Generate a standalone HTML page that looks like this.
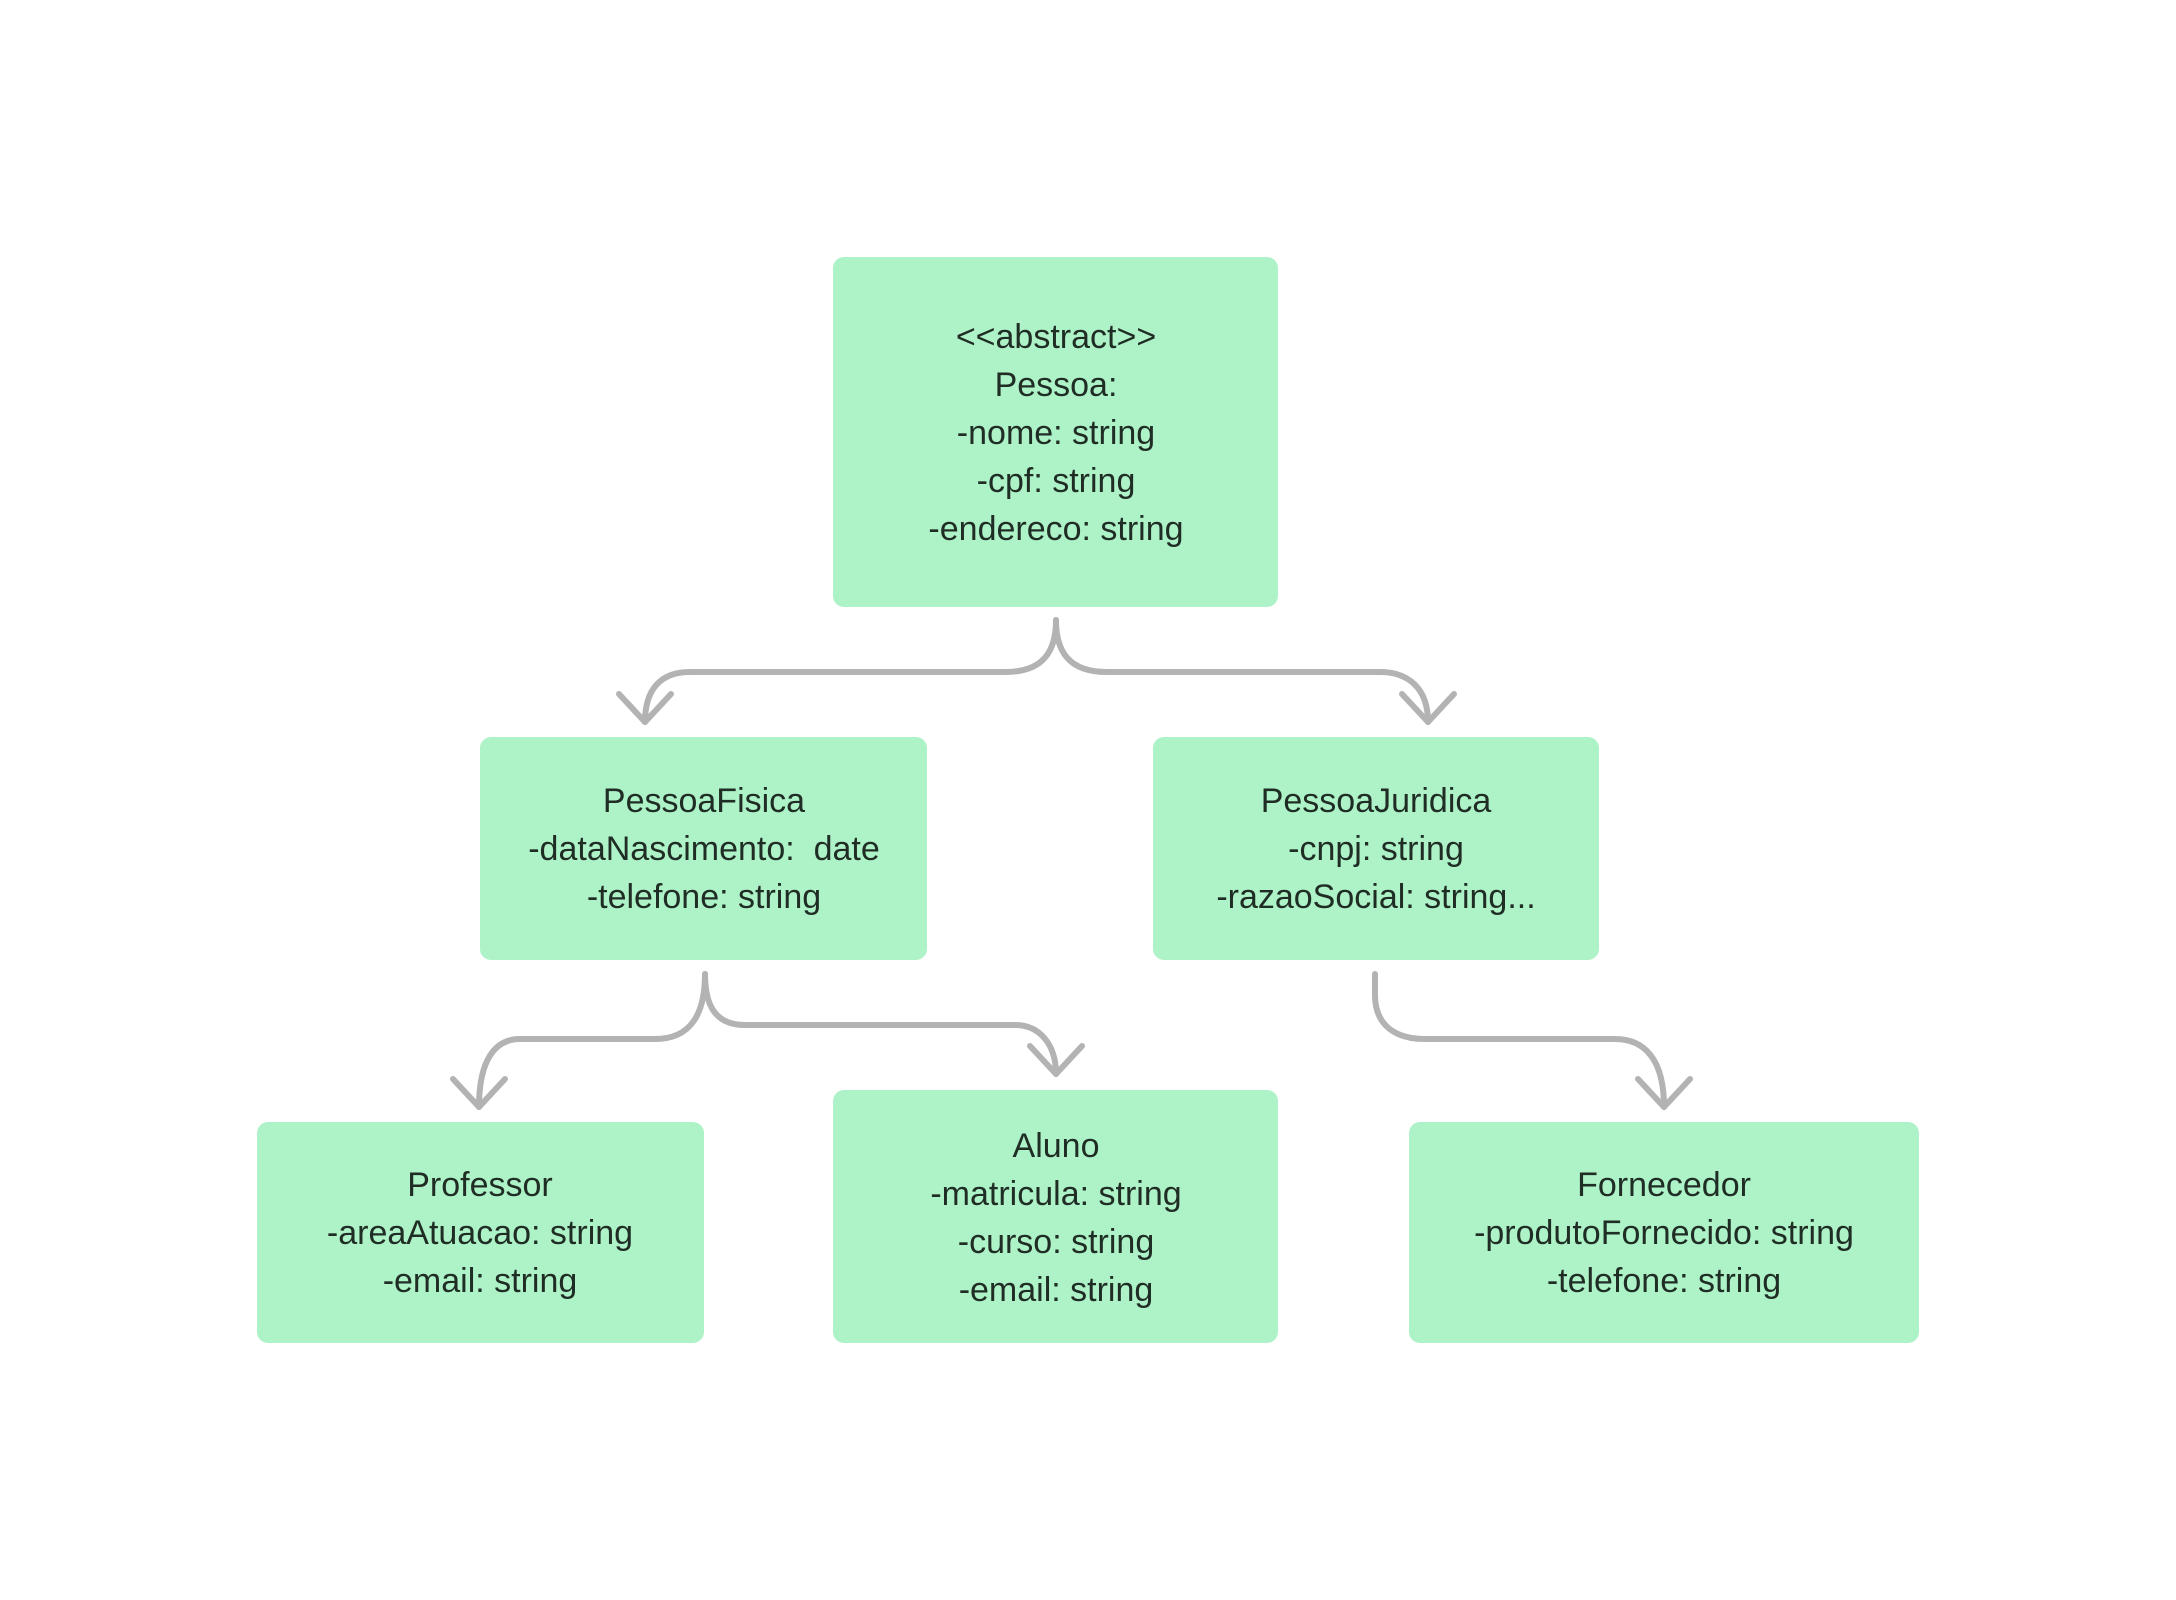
<!DOCTYPE html>
<html><head><meta charset="utf-8"><style>
html,body{margin:0;padding:0;background:#fff;}
svg{display:block;}
text{font-family:"Liberation Sans",sans-serif;font-size:34px;fill:#1f2d24;text-anchor:middle;dominant-baseline:central;}
</style></head><body>
<svg width="2176" height="1600" viewBox="0 0 2176 1600">
<g fill="#aef3c8">
<rect x="833" y="257" width="445" height="350" rx="11"/>
<rect x="480" y="737" width="447" height="223" rx="11"/>
<rect x="1153" y="737" width="446" height="223" rx="11"/>
<rect x="257" y="1122" width="447" height="221" rx="11"/>
<rect x="833" y="1090" width="445" height="253" rx="11"/>
<rect x="1409" y="1122" width="510" height="221" rx="11"/>
</g>
<g fill="none" stroke="#b3b3b3" stroke-width="6" stroke-linecap="round" stroke-linejoin="round">
<path d="M1056,620 C1056,655 1040,672 1005,672 L690,672 C660,672 645,690 645,722"/>
<path d="M619,694 L645,722 L671,694"/>
<path d="M1056,620 C1056,655 1072,672 1107,672 L1380,672 C1410,672 1428,690 1428,722"/>
<path d="M1402,694 L1428,722 L1454,694"/>
<path d="M705,974 C705,1015 690,1039 655,1039 L520,1039 C495,1039 479,1060 479,1107"/>
<path d="M453,1079 L479,1107 L505,1079"/>
<path d="M705,974 C705,1005 715,1025 745,1025 L1015,1025 C1040,1025 1056,1045 1056,1074"/>
<path d="M1030,1046 L1056,1074 L1082,1046"/>
<path d="M1375,974 L1375,995 C1375,1025 1395,1039 1425,1039 L1615,1039 C1645,1039 1664,1060 1664,1107"/>
<path d="M1638,1079 L1664,1107 L1690,1079"/>
</g>
<text x="1056" y="337">&lt;&lt;abstract&gt;&gt;</text>
<text x="1056" y="385">Pessoa:</text>
<text x="1056" y="433">-nome: string</text>
<text x="1056" y="481">-cpf: string</text>
<text x="1056" y="529">-endereco: string</text>
<text x="704" y="801">PessoaFisica</text>
<text x="704" y="849" xml:space="preserve">-dataNascimento:  date</text>
<text x="704" y="897">-telefone: string</text>
<text x="1376" y="801">PessoaJuridica</text>
<text x="1376" y="849">-cnpj: string</text>
<text x="1376" y="897">-razaoSocial: string...</text>
<text x="480" y="1185">Professor</text>
<text x="480" y="1233">-areaAtuacao: string</text>
<text x="480" y="1281">-email: string</text>
<text x="1056" y="1146">Aluno</text>
<text x="1056" y="1194">-matricula: string</text>
<text x="1056" y="1242">-curso: string</text>
<text x="1056" y="1290">-email: string</text>
<text x="1664" y="1185">Fornecedor</text>
<text x="1664" y="1233">-produtoFornecido: string</text>
<text x="1664" y="1281">-telefone: string</text>
</svg>
</body></html>
